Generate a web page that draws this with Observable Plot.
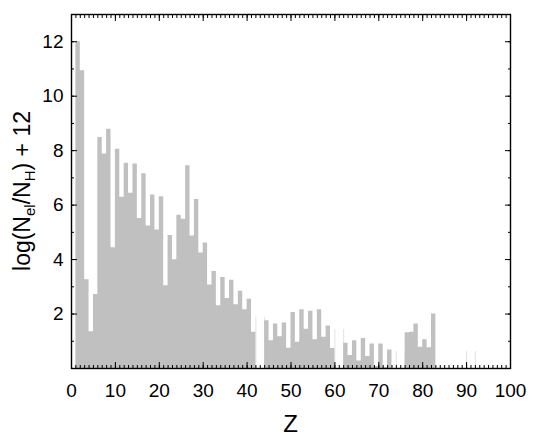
<!DOCTYPE html>
<html>
<head>
<meta charset="utf-8">
<script src="https://cdn.jsdelivr.net/npm/d3@7"></script>
<script src="https://cdn.jsdelivr.net/npm/@observablehq/plot@0.6"></script>
<style>
  html, body { margin: 0; padding: 0; background: #fff; }
  #chart svg { overflow: visible; }
</style>
</head>
<body>
<div id="chart"></div>
<script>
// Atomic numbers drawn as grey bars and their abundances log(N_el/N_H)+12
const elementZ = [
  1,2,3,4,5,6,7,8,9,10,11,12,13,14,15,16,17,18,19,20,
  21,22,23,24,25,26,27,28,29,30,31,32,33,34,35,36,37,38,39,40,41,
  44,45,46,47,48,49,50,51,52,53,54,55,56,57,58,59,
  62,63,64,65,66,67,68,69,70,71,72,
  76,77,78,79,80,81,82
];
const abundance = [
  12.00,10.93,3.26,1.35,2.72,8.48,7.88,8.79,4.43,8.05,6.29,7.54,6.44,7.51,5.51,7.15,5.23,6.37,5.09,6.31,
  3.04,4.88,3.99,5.63,5.48,7.45,4.87,6.21,4.24,4.61,3.07,3.56,2.30,3.34,2.57,3.24,2.34,2.84,2.16,2.54,1.33,
  1.75,1.02,1.63,1.17,1.67,0.74,2.06,0.96,2.16,1.44,2.10,1.06,2.16,1.15,1.56,0.73,
  0.93,0.48,1.02,0.28,1.10,0.44,0.90,0.07,0.90,0.03,0.68,
  1.31,1.33,1.63,0.78,1.06,0.76,2.00
];
// Elements drawn only as faint outlines (followed by a missing element)
const faintZ = [42, 60, 74, 90];
const faintAbundance = [1.88, 1.43, 0.62, 0.62];
const faintSpan = [2, 2, 2, 2];

// Axis ticks
const xMajorTicks = [0,10,20,30,40,50,60,70,80,90,100];
const xMinorTicks = d3.range(0, 101, 1);
const yMajorTicks = [2,4,6,8,10,12];
const yMinorTicks = [1,2,3,4,5,6,7,8,9,10,11,12,13];

// Build step-area table: each contiguous run of Z is one stepped area (bar width 1)
const stepRows = [];
let run = 0;
elementZ.forEach((z, i) => {
  if (i > 0 && z !== elementZ[i - 1] + 1) run++;
  stepRows.push({z, v: abundance[i], run});
  const last = i === elementZ.length - 1 || elementZ[i + 1] !== z + 1;
  if (last) stepRows.push({z: z + 1, v: abundance[i], run});
});
const faintEdges = faintZ.flatMap((z, i) => [
  {x: z, v: faintAbundance[i]},
  {x: z + faintSpan[i], v: faintAbundance[i]}
]);

const font = "'Liberation Sans', Arial, Helvetica, sans-serif";
const tickFont = 19;

const plot = Plot.plot({
  width: 533,
  height: 436,
  marginLeft: 71,
  marginRight: 23,
  marginTop: 14,
  marginBottom: 68,
  style: {fontFamily: font, fontSize: tickFont + "px", background: "#fff", color: "#000"},
  x: {domain: [0, 100], label: null},
  y: {domain: [0, 13], label: null},
  marks: [
    Plot.ruleX(faintEdges, {x: "x", y1: 0, y2: "v", stroke: "#e2e2e2", strokeWidth: 1}),
    Plot.areaY(stepRows, {x: "z", y: "v", z: "run", curve: "step-after", fill: "#c0c0c0"}),
    // bottom axis
    Plot.axisX(xMajorTicks, {anchor: "bottom", tickSize: -6, tickPadding: 21, fontSize: tickFont, label: null}),
    Plot.axisX(xMinorTicks, {anchor: "bottom", tickSize: -3, fill: "none", label: null}),
    // top axis
    Plot.axisX(xMajorTicks, {anchor: "top", tickSize: -6, fill: "none", label: null}),
    Plot.axisX(xMinorTicks, {anchor: "top", tickSize: -3, fill: "none", label: null}),
    // left axis
    Plot.axisY(yMajorTicks, {anchor: "left", tickSize: -6, tickPadding: 14, fontSize: tickFont, label: null}),
    Plot.axisY(yMinorTicks, {anchor: "left", tickSize: -3, fill: "none", label: null}),
    // right axis
    Plot.axisY(yMajorTicks, {anchor: "right", tickSize: -6, fill: "none", label: null}),
    Plot.axisY(yMinorTicks, {anchor: "right", tickSize: -3, fill: "none", label: null}),
    Plot.frame({stroke: "#000", strokeWidth: 1.4})
  ]
});

document.getElementById("chart").appendChild(plot);

const svg = d3.select(plot);
// x axis title
svg.append("text")
  .attr("x", (71 + 510) / 2)
  .attr("y", 432)
  .attr("text-anchor", "middle")
  .attr("font-family", font)
  .attr("font-size", 24)
  .attr("fill", "#000")
  .text("Z");

// y axis title with subscripts
const yt = svg.append("text")
  .attr("transform", "translate(30,191) rotate(-90)")
  .attr("text-anchor", "middle")
  .attr("font-family", font)
  .attr("font-size", 23)
  .attr("fill", "#000");
yt.append("tspan").text("log(N");
yt.append("tspan").attr("dy", 5).attr("font-size", 15).text("el");
yt.append("tspan").attr("dy", -5).text("/N");
yt.append("tspan").attr("dy", 5).attr("font-size", 15).text("H");
yt.append("tspan").attr("dy", -5).text(") + 12");
</script>
</body>
</html>
